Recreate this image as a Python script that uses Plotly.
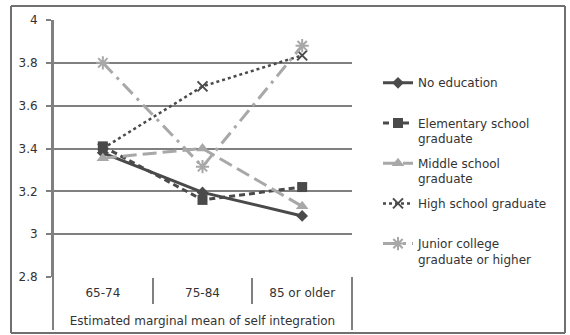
import plotly.graph_objects as go

categories = ["65-74", "75-84", "85 or older"]
no_education = [3.38, 3.195, 3.085]
elementary = [3.41, 3.16, 3.22]
middle = [3.355, 3.40, 3.13]
high_school = [3.40, 3.69, 3.835]
junior_college = [3.80, 3.315, 3.88]
y_ticks = [2.8, 3.0, 3.2, 3.4, 3.6, 3.8, 4.0]

names = [
    "No education<br> ",
    "Elementary school<br>graduate",
    "Middle school<br>graduate",
    "High school graduate<br> ",
    "Junior college<br>graduate or higher",
]

DARK = "#4a4a4a"
LIGHT = "#a8a8a8"
FONT = "DejaVu Sans"

fig = go.Figure()
fig.add_trace(go.Scatter(x=categories, y=no_education, name=names[0], legendgroup="a",
                         mode="lines+markers", line=dict(color=DARK, width=3),
                         marker=dict(symbol="diamond", size=9, color=DARK)))
fig.add_trace(go.Scatter(x=categories, y=elementary, name=names[1], legendgroup="b",
                         mode="lines+markers", line=dict(color=DARK, width=3, dash="6px,4px"),
                         marker=dict(symbol="square", size=10, color=DARK)))
fig.add_trace(go.Scatter(x=categories, y=middle, name=names[2], legendgroup="c",
                         mode="lines+markers", line=dict(color=LIGHT, width=3, dash="14px,6px"),
                         marker=dict(symbol="triangle-up", size=11, color=LIGHT)))
fig.add_trace(go.Scatter(x=categories, y=high_school, name=names[3], legendgroup="d",
                         mode="lines+markers", line=dict(color=DARK, width=2.5, dash="dot"),
                         marker=dict(symbol="x-thin", size=10, color=DARK,
                                     line=dict(color=DARK, width=2))))
fig.add_trace(go.Scatter(x=categories, y=junior_college, name=names[4], legendgroup="e",
                         mode="lines+markers", line=dict(color=LIGHT, width=3, dash="14px,6px,3px,6px"),
                         marker=dict(symbol="asterisk", size=11, color=LIGHT,
                                     line=dict(color=LIGHT, width=2))))

W, H = 570, 335
L, T = 53, 20
R, B = W - 352, H - 277
pw, ph = W - L - R, H - T - B

def px_x(x):  # window pixel -> paper fraction
    return (x - L) / pw

def px_y(y):
    return 1 - (y - T) / ph

fig.update_layout(
    width=W, height=H, autosize=False,
    margin=dict(l=L, r=R, t=T, b=B, pad=0),
    paper_bgcolor="white", plot_bgcolor="white",
    font=dict(family=FONT, size=12, color="#333333"),
    showlegend=True,
    legend=dict(x=px_x(378), y=px_y(68.5), xanchor="left", yanchor="top",
                valign="top", tracegroupgap=6, traceorder="grouped",
                font=dict(family=FONT, size=12, color="#333333"),
                bgcolor="rgba(0,0,0,0)"),
    xaxis=dict(type="category", categoryorder="array", categoryarray=categories,
               range=[-0.5, 2.5], showgrid=False, zeroline=False, automargin=False,
               showline=False, ticks="outside", tickson="boundaries",
               ticklen=26, tickwidth=2, tickcolor="#808080",
               ticklabelstandoff=7, tickfont=dict(size=12),
               title=dict(text="Estimated marginal mean of self integration",
                          font=dict(size=12), standoff=17)),
    yaxis=dict(range=[2.8, 4.0], tickvals=y_ticks, showgrid=True, automargin=False,
               gridcolor="#808080", gridwidth=2, zeroline=False,
               showline=True, linecolor="#808080", linewidth=2,
               ticks="outside", ticklen=5, tickwidth=2, tickcolor="#808080",
               ticklabelstandoff=6, tickfont=dict(size=12)),
)

# category box edges extending below the plot
fig.add_shape(type="line", xref="paper", yref="paper", x0=0, x1=0, y0=px_y(330), y1=1,
              line=dict(color="#808080", width=2))
fig.add_shape(type="line", xref="paper", yref="paper", x0=1, x1=1, y0=px_y(330), y1=0,
              line=dict(color="#808080", width=2))
# outer chart frame
fx0, fx1, fy0, fy1 = px_x(11), px_x(565), px_y(333), px_y(6)
for a, b, c, d in [(fx0, fx1, fy1, fy1), (fx0, fx1, fy0, fy0), (fx0, fx0, fy0, fy1), (fx1, fx1, fy0, fy1)]:
    fig.add_shape(type="line", xref="paper", yref="paper", x0=a, x1=b, y0=c, y1=d,
                  line=dict(color="#707070", width=2))

# remove the default 8px page margin so the 570x335 figure fills the window
fig.write_html("out.html", config={"displayModeBar": False},
               post_script="document.body.style.margin='0';")
